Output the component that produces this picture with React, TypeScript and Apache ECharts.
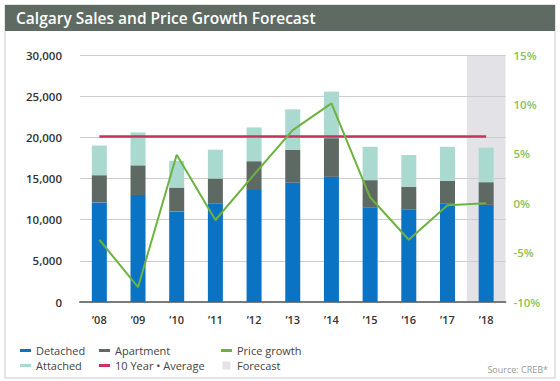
import React, { useEffect, useRef } from "react";
import * as echarts from "echarts";

const years = ["’08", "’09", "’10", "’11", "’12", "’13", "’14", "’15", "’16", "’17", "’18"];
const detached = [12100, 13000, 11000, 12000, 13600, 14500, 15200, 11500, 11200, 12000, 11800];
const apartment = [3300, 3600, 2900, 3000, 3500, 4000, 4700, 3300, 2800, 2700, 2750];
const attached = [3600, 4000, 3250, 3500, 4100, 4900, 5650, 4050, 3850, 4150, 4200];
const priceGrowth = [-3.7, -8.5, 4.9, -1.7, 2.9, 7.4, 10.1, 0.6, -3.7, -0.2, 0.0];
const tenYearAverage = [20100, 20100, 20100, 20100, 20100, 20100, 20100, 20100, 20100, 20100, 20100];
const forecast = [null, null, null, null, null, null, null, null, null, null, 30000];

const FONT = "'Open Sans', 'Noto Sans', sans-serif";
const lineIcon = "path://M0,0h11v3h-11z";
const squareIcon = "path://M0,0h8v8h-8z";

export default function App() {
  const ref = useRef<HTMLDivElement>(null);
  useEffect(() => {
    if (!ref.current) return;
    const chart = echarts.init(ref.current, undefined, { renderer: "svg" });
    const legendBase = {
      orient: "vertical",
      itemWidth: 11,
      itemHeight: 8,
      itemGap: 4,
      symbolKeepAspect: true,
      textStyle: { fontFamily: FONT, fontSize: 11, color: "#444", lineHeight: 11, padding: [0, 0, 0, 0] },
      padding: 0,
    };
    chart.setOption({
      animation: false,
      backgroundColor: "#fff",
      textStyle: { fontFamily: FONT },
      graphic: [
        { type: "rect", shape: { x: 5, y: 5, width: 550, height: 373 }, style: { fill: "#fff", stroke: "#c9c9c9", lineWidth: 1 }, z: -10 },
        { type: "rect", shape: { x: 5, y: 5, width: 550, height: 26 }, style: { fill: "#5e6a62" }, z: 10 },
        {
          type: "text",
          x: 16,
          y: 18,
          style: { text: "Calgary Sales and Price Growth Forecast", fill: "#fff", font: `600 15.5px ${FONT}`, textVerticalAlign: "middle" },
          z: 11,
        },
        {
          type: "text",
          x: 548,
          y: 369,
          style: { text: "Source: CREB*", fill: "#999", font: `9px ${FONT}`, textAlign: "right", textVerticalAlign: "middle" },
          z: 11,
        },
      ],
      legend: [
        { ...legendBase, left: 20, top: 345, data: [{ name: "Detached", icon: lineIcon }, { name: "Attached", icon: lineIcon }] },
        { ...legendBase, left: 99, top: 345, data: [{ name: "Apartment", icon: lineIcon }, { name: "10 Year • Average", icon: lineIcon }] },
        { ...legendBase, left: 221, top: 345, data: [{ name: "Price growth", icon: lineIcon }, { name: "Forecast", icon: squareIcon }] },
      ],
      grid: { left: 80, right: 54.5, top: 55, bottom: 79 },
      xAxis: [
        {
          type: "category",
          data: years,
          axisTick: { show: false },
          axisLine: { lineStyle: { color: "#7a7a7a", width: 2 } },
          axisLabel: { color: "#333", fontSize: 11, fontWeight: 600, fontFamily: FONT, margin: 12 },
        },
        { type: "category", data: years, show: false, gridIndex: 0 },
      ],
      yAxis: [
        {
          type: "value",
          min: 0,
          max: 30000,
          interval: 5000,
          axisLine: { show: false },
          axisTick: { show: false },
          splitLine: { lineStyle: { color: "#cdcdcd", width: 1 } },
          axisLabel: {
            color: "#333",
            fontSize: 11.5,
            fontWeight: 600,
            fontFamily: FONT,
            margin: 18,
            formatter: (v: number) => v.toLocaleString("en-US"),
          },
        },
        {
          type: "value",
          min: -10,
          max: 15,
          interval: 5,
          axisLine: { show: false },
          axisTick: { show: false },
          splitLine: { show: false },
          axisLabel: { color: "#8cc152", fontSize: 11.5, fontWeight: 600, fontFamily: FONT, margin: 8, formatter: "{value}%" },
        },
      ],
      series: [
        {
          name: "Forecast",
          type: "bar",
          xAxisIndex: 1,
          yAxisIndex: 0,
          data: forecast,
          barWidth: "100%",
          itemStyle: { color: "#e3e3e7" },
          z: -1,
          silent: true,
        },
        { name: "Detached", type: "bar", stack: "s", data: detached, barWidth: 15, itemStyle: { color: "#0b73c3" } },
        { name: "Apartment", type: "bar", stack: "s", data: apartment, barWidth: 15, itemStyle: { color: "#5f6963" } },
        { name: "Attached", type: "bar", stack: "s", data: attached, barWidth: 15, itemStyle: { color: "#a9d9cf" } },
        {
          name: "10 Year • Average",
          type: "line",
          data: tenYearAverage,
          symbol: "none",
          itemStyle: { color: "#c9325c" },
          lineStyle: { color: "#c9325c", width: 2.5 },
          z: 5,
        },
        {
          name: "Price growth",
          type: "line",
          yAxisIndex: 1,
          data: priceGrowth,
          symbol: "none",
          itemStyle: { color: "#6db33f" },
          lineStyle: { color: "#6db33f", width: 2 },
          z: 6,
        },
      ],
    });
    return () => chart.dispose();
  }, []);
  return <div ref={ref} style={{ position: "fixed", left: 0, top: 0, width: 560, height: 381 }} />;
}
